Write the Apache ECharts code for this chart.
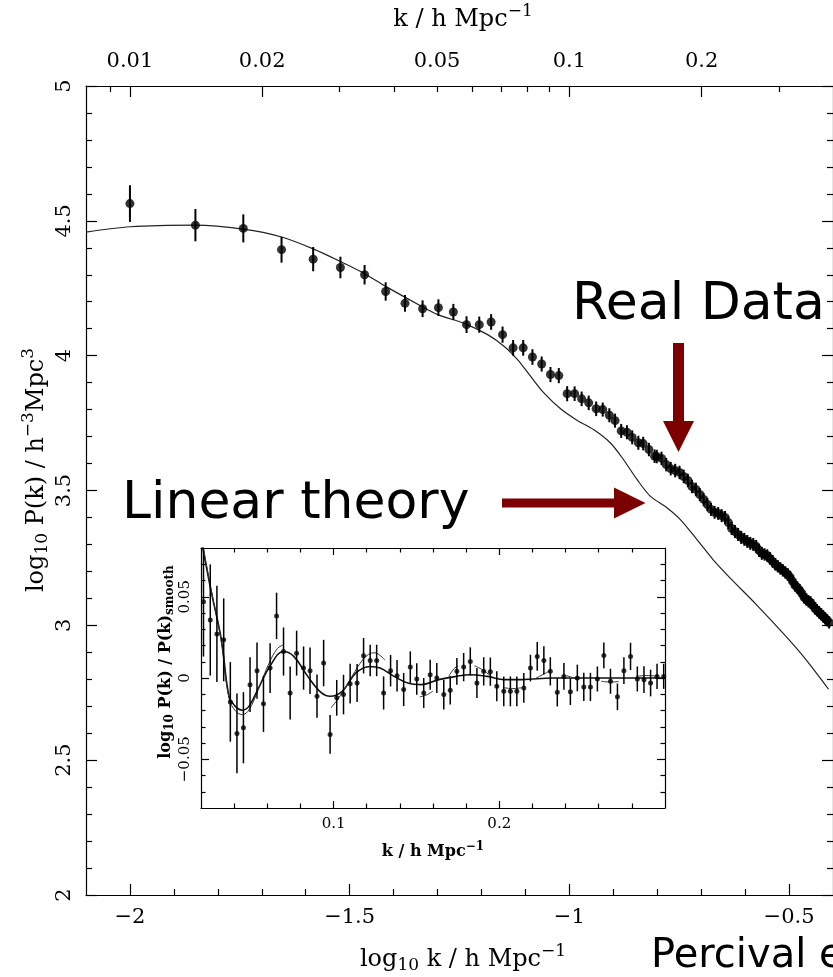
<!DOCTYPE html>
<html>
<head>
<meta charset="utf-8">
<script src="https://cdn.jsdelivr.net/npm/echarts@6/dist/echarts.min.js"></script>
<style>
html, body { margin: 0; padding: 0; background: #fff; }
#chart { width: 833px; height: 977px; }
</style>
</head>
<body>
<div id="chart"></div>
<script>
// ---- Measured galaxy power spectrum: log10 k, log10 P(k), 1-sigma error ----
const dataLogK = [-2.000,-1.851,-1.742,-1.655,-1.583,-1.521,-1.466,-1.418,-1.374,-1.334,
  -1.298,-1.264,-1.234,-1.205,-1.178,-1.152,-1.128,-1.105,-1.084,-1.063,
  -1.043,-1.024,-1.005,-0.988,-0.972,-0.956,-0.939,-0.924,-0.909,-0.896,
  -0.882,-0.869,-0.857,-0.843,-0.832,-0.819,-0.806,
  -0.8011,-0.7902,-0.7796,-0.7693,-0.7592,-0.7493,-0.7397,-0.7303,-0.7210,-0.7120,
  -0.7031,-0.6944,-0.6859,-0.6776,-0.6694,-0.6613,-0.6534,-0.6457,-0.6381,-0.6306,
  -0.6232,-0.6160,-0.6089,-0.6019,-0.5950,-0.5882,-0.5815,-0.5749,-0.5684,-0.5620,
  -0.5558,-0.5496,-0.5435,-0.5374,-0.5315,-0.5256,-0.5198,-0.5141,-0.5085,-0.5029,
  -0.4974,-0.4920,-0.4866,-0.4814,-0.4761,-0.4710,-0.4659,-0.4608,-0.4558,-0.4509,
  -0.4460,-0.4412,-0.4364,-0.4317,-0.4270,-0.4224,-0.4178,-0.4133,-0.4088];
const dataLogP = [4.564,4.484,4.472,4.393,4.358,4.327,4.300,4.238,4.194,4.174,
  4.178,4.162,4.115,4.115,4.125,4.078,4.029,4.029,3.995,3.969,
  3.930,3.926,3.859,3.859,3.840,3.825,3.803,3.800,3.779,3.759,
  3.721,3.716,3.697,3.677,3.674,3.652,3.627,
  3.626,3.619,3.596,3.581,3.574,3.567,3.552,3.537,3.515,3.504,
  3.485,3.467,3.448,3.430,3.419,3.415,3.407,3.400,3.381,3.359,
  3.348,3.337,3.326,3.319,3.311,3.304,3.300,3.293,3.278,3.267,
  3.263,3.259,3.248,3.237,3.226,3.219,3.211,3.204,3.196,3.189,
  3.178,3.163,3.148,3.141,3.130,3.119,3.104,3.096,3.089,3.085,
  3.074,3.063,3.056,3.048,3.041,3.033,3.026,3.019,3.011];
const dataErr = [0.068,0.060,0.052,0.048,0.045,0.040,0.036,0.034,0.031,0.031,
  0.031,0.030,0.031,0.030,0.029,0.030,0.029,0.029,0.029,0.028,
  0.028,0.028,0.028,0.027,0.027,0.027,0.027,0.026,0.026,0.026,
  0.026,0.026,0.026,0.026,0.025,0.025,0.025,
  0.025,0.025,0.025,0.025,0.025,0.025,0.025,0.025,0.025,0.025,
  0.024,0.024,0.024,0.024,0.024,0.024,0.024,0.024,0.024,0.024,
  0.024,0.024,0.024,0.024,0.024,0.024,0.024,0.024,0.024,0.024,
  0.023,0.023,0.023,0.023,0.023,0.023,0.023,0.023,0.023,0.023,
  0.023,0.023,0.023,0.023,0.023,0.023,0.023,0.023,0.023,0.023,
  0.023,0.023,0.023,0.023,0.023,0.023,0.023,0.023,0.023];

// ---- Linear theory prediction ----
const theoryLogK = [-2.1,-2.0,-1.851,-1.742,-1.655,-1.583,-1.521,-1.466,-1.418,-1.344,
  -1.299,-1.238,-1.186,-1.148,-1.118,-1.088,-1.058,-1.020,-0.982,-0.945,
  -0.907,-0.877,-0.846,-0.816,-0.778,-0.748,-0.710,-0.673,-0.635,-0.575,
  -0.507,-0.462,-0.410];
const theoryLogP = [4.458,4.478,4.484,4.469,4.440,4.396,4.349,4.304,4.257,4.190,
  4.152,4.119,4.078,4.034,3.985,3.923,3.862,3.803,3.760,3.726,
  3.677,3.615,3.541,3.479,3.436,3.393,3.319,3.244,3.177,3.078,
  2.959,2.874,2.763];

// ---- Inset: log10 P(k)/P(k)smooth ----
const insetK = [0.0215,0.0256,0.0296,0.0337,0.0377,0.0417,0.0456,0.0496,0.0538,0.0577,
  0.0617,0.0656,0.0698,0.0738,0.0777,0.0819,0.0858,0.0900,0.0940,0.0979,
  0.1019,0.1060,0.1100,0.1142,0.1181,0.1221,0.1260,0.1302,0.1344,0.1383,
  0.1423,0.1463,0.1502,0.1544,0.1583,0.1623,0.1665,0.1704,0.1744,0.1785,
  0.1825,0.1865,0.1906,0.1946,0.1985,0.2027,0.2067,0.2106,0.2148,0.2188,
  0.2229,0.2269,0.2308,0.2350,0.2390,0.2429,0.2471,0.2510,0.2550,0.2592,
  0.2631,0.2671,0.2713,0.2752,0.2792,0.2833,0.2873,0.2913,0.2952,0.2992];
const insetV = [0.0469,0.0357,0.0271,0.0235,-0.0147,-0.0341,-0.0306,-0.0041,0.0045,-0.0159,
  0.0061,0.0382,0.0163,-0.0092,0.0153,0.0061,0.0045,-0.0112,0.0092,-0.0347,
  -0.0122,-0.0102,-0.0035,-0.0031,0.0137,0.0108,0.0108,-0.0092,0.0045,0.0014,
  -0.0071,0.0067,-0.0006,-0.0092,0.0020,0.0000,-0.0102,-0.0076,0.0041,0.0067,
  0.0102,-0.0031,0.0041,0.0039,-0.0051,-0.0082,-0.0082,-0.0082,-0.0061,0.0061,
  0.0133,0.0108,0.0041,-0.0088,0.0010,-0.0084,0.0000,-0.0055,-0.0055,-0.0006,
  0.0139,-0.0020,-0.0116,0.0045,0.0133,-0.0006,-0.0010,-0.0031,0.0010,0.0010];
const insetErr = [0.0337,0.0342,0.0296,0.0255,0.0245,0.0245,0.0219,0.0168,0.0173,0.0173,
  0.0153,0.0143,0.0148,0.0163,0.0138,0.0133,0.0143,0.0133,0.0143,0.0119,
  0.0110,0.0122,0.0122,0.0117,0.0109,0.0097,0.0097,0.0102,0.0097,0.0097,
  0.0102,0.0097,0.0097,0.0092,0.0092,0.0092,0.0092,0.0087,0.0082,0.0087,
  0.0087,0.0092,0.0087,0.0087,0.0092,0.0092,0.0092,0.0092,0.0092,0.0082,
  0.0089,0.0087,0.0087,0.0087,0.0082,0.0082,0.0082,0.0087,0.0087,0.0077,
  0.0079,0.0077,0.0082,0.0082,0.0084,0.0077,0.0082,0.0082,0.0077,0.0077];

// smooth oscillation model
const smoothFitK = [0.0200,0.0260,0.0323,0.0369,0.0406,0.0448,0.0490,0.0552,0.0615,0.0698,
  0.0760,0.0844,0.0927,0.0979,0.1052,0.1135,0.1219,0.1281,0.1365,0.1448,
  0.1531,0.1635,0.1740,0.1823,0.1927,0.2031,0.2135,0.2323,0.2600,0.3000];
const smoothFitV = [0.0860,0.0540,0.0235,-0.0112,-0.0173,-0.0198,-0.0173,-0.0051,0.0071,0.0163,
  0.0133,0.0010,-0.0092,-0.0112,-0.0082,0.0031,0.0071,0.0061,0.0010,-0.0031,
  -0.0041,-0.0010,0.0010,0.0020,0.0010,-0.0010,-0.0010,0.0000,0.0000,0.0000];

// piecewise local fits (null separates the pieces)
const pieceFitK = [0.0200,0.0260,0.0320,0.0369,0.0410,0.0450,0.0490,0.0550,0.0610,0.0660,0.0697,null,
  0.0985,0.1040,0.1100,0.1160,0.1210,0.1250,0.1285,0.1310,null,
  0.1520,0.1560,0.1600,null,
  0.1695,0.1725,0.1750,null,
  0.1850,0.1900,0.1950,null,
  0.2030,0.2080,0.2135,null,
  0.2215,0.2270,0.2315,null,
  0.2405,0.2435,0.2470,null,
  0.2615,0.2670,0.2720,null,
  0.2825,0.2890,0.2950];
const pieceFitV = [0.0880,0.0550,0.0240,-0.0125,-0.0205,-0.0225,-0.0195,-0.0060,0.0090,0.0180,0.0204,null,
  -0.0184,-0.0110,-0.0010,0.0090,0.0145,0.0155,0.0135,0.0110,null,
  -0.0116,-0.0105,-0.0080,null,
  0.0010,0.0055,0.0075,null,
  0.0075,0.0050,0.0010,null,
  -0.0060,-0.0065,-0.0060,null,
  -0.0005,0.0025,0.0050,null,
  0.0015,0.0005,-0.0010,null,
  -0.0020,-0.0025,-0.0022,null,
  0.0010,0.0015,0.0012];

// ---- Axis tick positions ----
const bottomMajor = [-2, -1.5, -1, -0.5];
const bottomMinor = [-1.9,-1.8,-1.7,-1.6,-1.4,-1.3,-1.2,-1.1,-0.9,-0.8,-0.7,-0.6];
const topLabelK = [0.01, 0.02, 0.05, 0.1, 0.2];
const topLongK = [0.01, 0.02, 0.1, 0.2];
const topShortK = [0.009, 0.03, 0.04, 0.05, 0.06, 0.07, 0.08, 0.09, 0.3];
const insetXMajor = [0.1, 0.2];
const insetXMinor = [0.04,0.06,0.08,0.12,0.14,0.16,0.18,0.22,0.24,0.26,0.28];
const insetYMajor = [-0.05, 0, 0.05];
const insetYMinor = [-0.07,-0.06,-0.04,-0.03,-0.02,-0.01,0.01,0.02,0.03,0.04,0.06,0.07];

const SERIF = 'DejaVu Serif';
const SANS = 'DejaVu Sans';
const INK = '#000';
const ARROW = '#7d0000';

const minus = v => String(v).replace('-', '\u2212');
const lineSt = { color: INK, width: 1.2 };

function valAxis(grid, min, max, position, o) {
  const base = {
    type: 'value', gridIndex: grid, min: min, max: max, position: position,
    splitLine: { show: false },
    axisLabel: { show: false },
    axisTick: { show: false },
    z: grid === 1 ? 6 : 0
  };
  Object.assign(base, o);
  base.axisLine = Object.assign({ show: false, lineStyle: lineSt }, o.axisLine || {}, { onZero: false });
  return base;
}
function ticks(values, len, width) {
  return { show: true, inside: true, length: len, customValues: values,
           lineStyle: { color: INK, width: width || 1.2 } };
}

const chart = echarts.init(document.getElementById('chart'), null, { width: 833, height: 977 });

// error bar renderer shared by both panels
function errorBars(lw) {
  return function (params, api) {
    const a = api.coord([api.value(0), api.value(1)]);
    const b = api.coord([api.value(0), api.value(2)]);
    return { type: 'line', shape: { x1: a[0], y1: a[1], x2: b[0], y2: b[1] },
             style: { stroke: INK, lineWidth: lw } };
  };
}

const rich = (size, weight) => ({
  n: { fontFamily: SERIF, fontSize: size, fontWeight: weight || 'normal', color: INK },
  sup: { fontFamily: SERIF, fontSize: Math.round(size * 0.72), fontWeight: weight || 'normal', color: INK,
         padding: [0, 0, Math.round(size * 0.7), 0] },
  sub: { fontFamily: SERIF, fontSize: Math.round(size * 0.72), fontWeight: weight || 'normal', color: INK,
         padding: [Math.round(size * 0.45), 0, 0, 0] }
});

const option = {
  animation: false,
  backgroundColor: '#fff',
  grid: [
    { left: 86, top: 86, width: 751.5, height: 809, show: false },
    { left: 201, top: 548, width: 464, height: 260, show: true, backgroundColor: '#fff', borderWidth: 0 }
  ],
  xAxis: [
    valAxis(0, -2.1, -0.4, 'bottom', {
      axisLine: { show: true },
      axisTick: ticks(bottomMajor, 11),
      axisLabel: { show: true, customValues: bottomMajor, formatter: minus, margin: 12,
                   fontFamily: SERIF, fontSize: 21, color: INK }
    }),
    valAxis(0, -2.1, -0.4, 'bottom', { axisTick: ticks(bottomMinor, 6) }),
    valAxis(0, -2.1, -0.4, 'top', {
      axisLine: { show: true },
      axisTick: ticks(topLongK.map(Math.log10), 11),
      axisLabel: { show: true, customValues: topLabelK.map(Math.log10),
                   formatter: v => String(Math.round(Math.pow(10, v) * 100) / 100),
                   margin: 14, fontFamily: SERIF, fontSize: 21, color: INK }
    }),
    valAxis(0, -2.1, -0.4, 'top', { axisTick: ticks(topShortK.map(Math.log10), 6) }),
    valAxis(1, 0.02, 0.3, 'bottom', {
      axisLine: { show: true },
      axisTick: ticks(insetXMajor, 7),
      axisLabel: { show: true, customValues: insetXMajor, margin: 9,
                   fontFamily: SERIF, fontSize: 15, color: INK }
    }),
    valAxis(1, 0.02, 0.3, 'bottom', { axisTick: ticks(insetXMinor, 4.5) }),
    valAxis(1, 0.02, 0.3, 'top', { axisLine: { show: true }, axisTick: ticks(insetXMajor, 7) }),
    valAxis(1, 0.02, 0.3, 'top', { axisTick: ticks(insetXMinor, 4.5) })
  ],
  yAxis: [
    valAxis(0, 2, 5, 'left', {
      interval: 0.5,
      axisLine: { show: true },
      axisTick: { show: true, inside: true, length: 11, lineStyle: lineSt },
      minorTick: { show: true, splitNumber: 5, length: 6, lineStyle: lineSt },
      axisLabel: { show: true, rotate: 90, margin: 11, fontFamily: SERIF, fontSize: 21, color: INK,
                   showMinLabel: true, showMaxLabel: true }
    }),
    valAxis(0, 2, 5, 'right', {
      interval: 0.5,
      axisLine: { show: true },
      axisTick: { show: true, inside: true, length: 11, lineStyle: lineSt },
      minorTick: { show: true, splitNumber: 5, length: 6, lineStyle: lineSt }
    }),
    valAxis(1, -0.08, 0.08, 'left', {
      axisLine: { show: true },
      axisTick: ticks(insetYMajor, 8),
      axisLabel: { show: true, customValues: insetYMajor, formatter: minus, rotate: 90, margin: 8,
                   fontFamily: SERIF, fontSize: 15, color: INK }
    }),
    valAxis(1, -0.08, 0.08, 'left', { axisTick: ticks(insetYMinor, 4.5) }),
    valAxis(1, -0.08, 0.08, 'right', { axisLine: { show: true }, axisTick: ticks(insetYMajor, 8) }),
    valAxis(1, -0.08, 0.08, 'right', { axisTick: ticks(insetYMinor, 4.5) })
  ],
  series: [
    {
      name: 'Linear theory', type: 'line', xAxisIndex: 0, yAxisIndex: 0,
      data: theoryLogK.map((k, i) => [k, theoryLogP[i]]),
      smooth: 0.3, showSymbol: false, symbol: 'none',
      lineStyle: { color: '#222', width: 1.2 }, clip: true, z: 2
    },
    {
      name: 'error', type: 'custom', xAxisIndex: 0, yAxisIndex: 0,
      data: dataLogK.map((k, i) => [k, dataLogP[i] - dataErr[i], dataLogP[i] + dataErr[i]]),
      renderItem: errorBars(2), clip: true, z: 3
    },
    {
      name: 'Real Data', type: 'scatter', xAxisIndex: 0, yAxisIndex: 0,
      data: dataLogK.map((k, i) => [k, dataLogP[i]]),
      symbol: 'circle', symbolSize: 9, itemStyle: { color: INK }, clip: true, z: 4
    },
    {
      name: 'inset smooth', type: 'line', xAxisIndex: 4, yAxisIndex: 2,
      data: smoothFitK.map((k, i) => [k, smoothFitV[i]]),
      smooth: 0.4, showSymbol: false, symbol: 'none',
      lineStyle: { color: '#111', width: 1.6 }, clip: true, z: 10
    },
    {
      name: 'inset pieces', type: 'line', xAxisIndex: 4, yAxisIndex: 2,
      data: pieceFitK.map((k, i) => k === null ? [null, null] : [k, pieceFitV[i]]),
      connectNulls: false, smooth: 0.4, showSymbol: false, symbol: 'none',
      lineStyle: { color: '#333', width: 1 }, clip: true, z: 10
    },
    {
      name: 'inset error', type: 'custom', xAxisIndex: 4, yAxisIndex: 2,
      data: insetK.map((k, i) => [k, insetV[i] - insetErr[i], insetV[i] + insetErr[i]]),
      renderItem: errorBars(1.5), clip: true, z: 11
    },
    {
      name: 'inset data', type: 'scatter', xAxisIndex: 4, yAxisIndex: 2,
      data: insetK.map((k, i) => [k, insetV[i]]),
      symbol: 'circle', symbolSize: 5, itemStyle: { color: INK }, clip: true, z: 12
    }
  ],
  graphic: [
    { type: 'text', x: 463, y: 20, z: 50,
      style: { text: '{n|k / h Mpc}{sup|\u22121}', rich: rich(24), align: 'center', verticalAlign: 'middle' } },
    { type: 'text', x: 463, y: 960, z: 50,
      style: { text: '{n|log}{sub|10}{n| k / h Mpc}{sup|\u22121}', rich: rich(24), align: 'center', verticalAlign: 'middle' } },
    { type: 'text', x: 37, y: 470, rotation: Math.PI / 2, z: 50,
      style: { text: '{n|log}{sub|10}{n| P(k) / h}{sup|\u22123}{n|Mpc}{sup|3}', rich: rich(24), align: 'center', verticalAlign: 'middle' } },
    { type: 'text', x: 433, y: 852, z: 50,
      style: { text: '{n|k / h Mpc}{sup|\u22121}', rich: rich(16, 'bold'), align: 'center', verticalAlign: 'middle' } },
    { type: 'text', x: 166, y: 662, rotation: Math.PI / 2, z: 50,
      style: { text: '{n|log}{sub|10}{n| P(k) / P(k)}{sub|smooth}', rich: rich(16, 'bold'), align: 'center', verticalAlign: 'middle' } },
    { type: 'text', x: 572, y: 279, z: 50,
      style: { text: 'Real Data', fontFamily: SANS, fontSize: 52, fill: INK, align: 'left', verticalAlign: 'top' } },
    { type: 'text', x: 122, y: 478, z: 50,
      style: { text: 'Linear theory', fontFamily: SANS, fontSize: 52, fill: INK, align: 'left', verticalAlign: 'top' } },
    { type: 'text', x: 651, y: 937, z: 50,
      style: { text: 'Percival et al. 2007', fontFamily: SANS, fontSize: 40, fill: INK, align: 'left', verticalAlign: 'top' } },
    { type: 'polygon', z: 50,
      shape: { points: [[673, 343], [684, 343], [684, 421], [694, 421], [678.5, 452], [663, 421], [673, 421]] },
      style: { fill: ARROW } },
    { type: 'polygon', z: 50,
      shape: { points: [[502, 498.5], [614, 498.5], [614, 487.5], [645.5, 503], [614, 518.5], [614, 507.5], [502, 507.5]] },
      style: { fill: ARROW } }
  ]
};

chart.setOption(option);
</script>
</body>
</html>
